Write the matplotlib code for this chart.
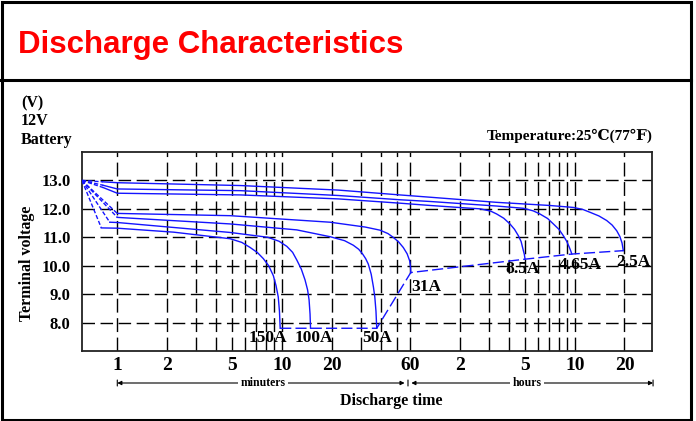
import matplotlib
matplotlib.use("Agg")
import matplotlib.pyplot as plt
from matplotlib.patches import Rectangle
from matplotlib.lines import Line2D

# ---- data (time in minutes, terminal voltage in V) ----
labels = ["150A", "100A", "50A", "31A", "8.5A", "4.65A", "2.5A"]

t_150 = [0.80, 1.0, 2.2, 4.84, 5.7, 6.41, 7.1, 7.7, 8.3, 8.86, 9.2, 9.49, 9.65, 9.75]
v_150 = [11.33, 11.32, 11.18, 10.95, 10.82, 10.64, 10.46, 10.25, 10.0, 9.65, 9.3, 8.9, 8.4, 7.8]

t_100 = [0.90, 1.0, 4.84, 8.2, 9.6, 10.7, 11.6, 12.3, 13.1, 13.8, 14.3, 14.6, 14.8, 14.9]
v_100 = [11.53, 11.52, 11.17, 11.0, 10.86, 10.68, 10.47, 10.2, 9.88, 9.5, 9.15, 8.8, 8.3, 7.8]

t_50 = [1.0, 4.84, 12.3, 19.6, 24.0, 27.1, 29.2, 30.8, 32.2, 33.4, 34.8, 35.9, 36.6, 37.2, 37.6]
v_50 = [11.70, 11.47, 11.26, 11.02, 10.88, 10.72, 10.58, 10.42, 10.25, 10.06, 9.7, 9.25, 8.9, 8.4, 7.8]

t_31 = [1.0, 4.84, 19.6, 32.0, 39.4, 44.0, 47.3, 51.0, 54.5, 57.5, 59.6, 60.3, 60.5]
v_31 = [11.84, 11.76, 11.53, 11.36, 11.25, 11.13, 11.0, 10.84, 10.64, 10.42, 10.17, 9.95, 9.76]

t_8_5 = [0.82, 1.0, 5.6, 22, 52, 79, 125, 160, 185, 201, 222, 242, 258, 272, 283, 290, 296, 299]
v_8_5 = [12.75, 12.55, 12.49, 12.35, 12.20, 12.12, 12.04, 12.0, 11.92, 11.82, 11.67, 11.47, 11.28, 11.06, 10.85, 10.6, 10.4, 10.23]

t_4_65 = [0.82, 1.0, 5.6, 22, 52, 79, 200, 292, 335, 368, 410, 444, 480, 510, 535, 555, 568, 575]
v_4_65 = [12.83, 12.70, 12.64, 12.47, 12.32, 12.26, 12.10, 12.02, 11.93, 11.82, 11.66, 11.47, 11.28, 11.06, 10.86, 10.65, 10.5, 10.41]

t_2_5 = [0.82, 1.0, 5.6, 22, 52, 79, 200, 420, 587, 670, 741, 840, 936, 1010, 1077, 1125, 1160, 1181]
v_2_5 = [12.95, 12.92, 12.82, 12.66, 12.49, 12.41, 12.23, 12.12, 12.05, 11.98, 11.88, 11.75, 11.59, 11.43, 11.23, 11.03, 10.8, 10.53]

start_t, start_v = 0.61, 13.0   # common starting point of all curves

grid_t = [1, 2, 3, 4, 5, 6, 7, 8, 9, 10, 20, 30, 40, 50, 60,
          120, 180, 240, 300, 360, 420, 480, 540, 600, 1200]
grid_v = [8, 9, 10, 11, 12, 13]
xtick_t = [1, 2, 5, 10, 20, 60, 120, 300, 600, 1200]
xtick_lbl = ["1", "2", "5", "10", "20", "60", "2", "5", "10", "20"]
ytick_v = [13, 12, 11, 10, 9, 8]
# -------------------------------------------------------

W, H = 696, 421
def fx(x): return x / W
def fy(y): return 1 - y / H

SERIF = ["Liberation Serif", "DejaVu Serif", "DejaVu Sans"]
BLUE = "#1414ff"

fig = plt.figure(figsize=(W / 100, H / 100), dpi=100)
ax = fig.add_axes([fx(81.7), fy(351), (652.5 - 81.7) / W, (351 - 152) / H])
ax.set_xscale("log")
ax.set_xlim(0.608, 1776)
ax.set_ylim(7, 14)

for t in grid_t:
    ax.axvline(t, color="k", lw=1.0, ls=(0, (10, 4)), zorder=1)
for v in grid_v:
    ax.axhline(v, color="k", lw=1.0, ls=(0, (9, 4)), zorder=1)

curves = [(t_150, v_150), (t_100, v_100), (t_50, v_50), (t_31, v_31),
          (t_8_5, v_8_5), (t_4_65, v_4_65), (t_2_5, v_2_5)]
for t, v in curves:
    ax.plot(t, v, color=BLUE, lw=1.0, zorder=3)
    ax.plot([start_t, t[0]], [start_v, v[0]], color=BLUE, lw=1.0,
            ls=(0, (3, 1.5)), zorder=3)

# dashed line through the end-of-discharge points
end_t = [c[0][-1] for c in curves]
end_v = [c[1][-1] for c in curves]
ax.plot(end_t, end_v, color=BLUE, lw=1.0, ls=(0, (8, 3)), zorder=3)

offsets = [(-12, -10), (3, -10), (0, -10), (15, -14), (-2, -10), (8, -11), (10, -11)]
for lbl, et, ev, off in zip(labels, end_t, end_v, offsets):
    ax.annotate(lbl, (et, ev), xytext=off, textcoords="offset pixels",
                ha="center", va="center", fontsize=12.5, fontweight="bold",
                family=SERIF, zorder=4)

ax.set_xticks(xtick_t)
ax.set_xticklabels(xtick_lbl)
ax.set_yticks(ytick_v)
ax.set_yticklabels([f"{v:.1f}" for v in ytick_v])
ax.minorticks_off()
ax.tick_params(axis="x", length=0, pad=4, labelsize=14)
ax.tick_params(axis="y", length=0, pad=8, labelsize=12)
for lab in ax.get_xticklabels() + ax.get_yticklabels():
    lab.set_family(SERIF)
    lab.set_fontweight("bold")
for sp in ax.spines.values():
    sp.set_linewidth(1.3)
    sp.set_color("#222222")

# ---- texts ----
fig.text(fx(18), fy(45), "Discharge Characteristics", color="#ff0000",
         fontsize=22.5, fontweight="bold", family=["Liberation Sans", "DejaVu Sans"],
         ha="left", va="center")
for s, y in [("(V)", 103), ("12V", 121), ("Battery", 140)]:
    fig.text(fx(21), fy(y), s, fontsize=11.5, fontweight="bold", family=SERIF,
             ha="left", va="center")
fig.text(fx(653), fy(136), "Temperature:25\u2103(77\u2109)", fontsize=11,
         fontweight="bold", family=SERIF, ha="right", va="center")
fig.text(fx(27), fy(263), "Terminal voltage", rotation=90, fontsize=11.5,
         fontweight="bold", family=SERIF, ha="center", va="center")
fig.text(fx(391), fy(401), "Discharge time", fontsize=11.5, fontweight="bold",
         family=SERIF, ha="center", va="center")

# minutes / hours arrows
ya = fy(383)
for x0, x1 in [(1.0, 55.5), (61.0, 1790)]:
    ax.annotate("", xy=(x0, ya), xytext=(x1, ya),
                xycoords=("data", "figure fraction"),
                textcoords=("data", "figure fraction"),
                arrowprops=dict(arrowstyle="<|-|>", lw=0.8, color="k",
                                mutation_scale=6, shrinkA=0, shrinkB=0),
                annotation_clip=False)
for xb in [1.0, 58.2, 1790]:
    ax.annotate("", xy=(xb, fy(380)), xytext=(xb, fy(386)),
                xycoords=("data", "figure fraction"),
                textcoords=("data", "figure fraction"),
                arrowprops=dict(arrowstyle="-", lw=0.8, color="k",
                                shrinkA=0, shrinkB=0),
                annotation_clip=False)
for s, x in [("minuters", 263), ("hours", 527)]:
    fig.text(fx(x), ya, s, fontsize=8.5, fontweight="bold", family=SERIF,
             ha="center", va="center",
             bbox=dict(facecolor="white", edgecolor="none", pad=1.5))

# ---- frame around the whole panel ----
fig.add_artist(Rectangle((fx(1.5), fy(419.5)), fx(691) - fx(1.5), fy(1.5) - fy(419.5),
                         transform=fig.transFigure, fill=False, lw=2.2, ec="k"))
fig.add_artist(Line2D([fx(0), fx(691)], [fy(80), fy(80)], transform=fig.transFigure,
                      color="k", lw=2.2))

fig.savefig("out.png", dpi=100)
